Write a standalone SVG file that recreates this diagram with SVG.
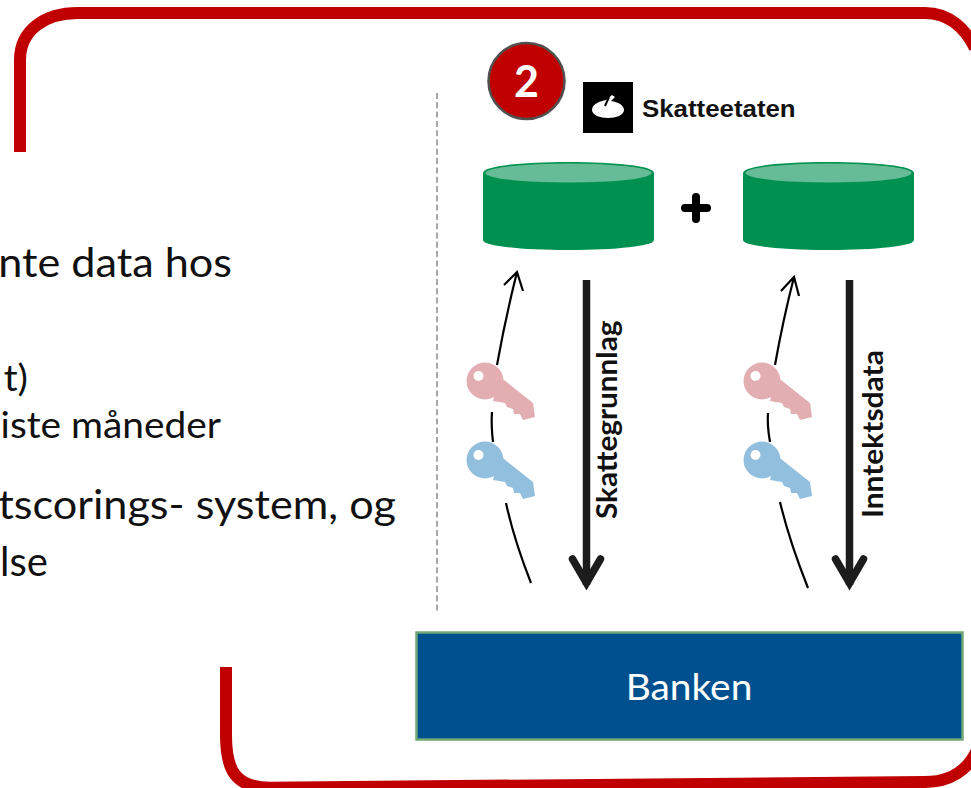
<svg xmlns="http://www.w3.org/2000/svg" xmlns:xlink="http://www.w3.org/1999/xlink" width="971" height="788" viewBox="0 0 971 788">
<style>
.body{font-family:Lato,"Open Sans",sans-serif;fill:#111;text-anchor:end}
.frame{fill:none;stroke:#c00000;stroke-linecap:butt}
.thick{fill:none;stroke:#1c1c1c;stroke-width:7.5}
.thin{fill:none;stroke:#000;stroke-width:2.2}
.side{font-family:Lato,"Open Sans",sans-serif;font-weight:700;font-size:28px;fill:#111}
.cylb{fill:#009150}
.cylt{fill:#66bc96}
</style>
<defs>
<g id="key"><circle r="18.500"/><path d="M14-5L48 22L50 36L38 39L35 33L29 33L28 28L22 26L20 22L8 20Z"/><circle cx="-6.500" cy="-5" r="5" fill="#fff"/></g>
</defs>
<rect width="971" height="788" fill="#fff"/>
<g id="frame">
<path class="frame" stroke-width="12" d="M20 152V60C20 30 45 13 78 13H925C950 13 966 30 975 48"/>
<path class="frame" stroke-width="12" d="M226 667V735C226 770 235 787.700 270 787.700L925 782C950 782 968 770 977 750"/>
</g>
<g id="text-left">
<text class="body" transform="translate(232 277) scale(1.08 1)" font-size="40">nte data hos</text>
<text class="body" transform="translate(28 391) scale(1.08 1)" font-size="36">t)</text>
<text class="body" transform="translate(221 438) scale(1.08 1)" font-size="36">iste måneder</text>
<text class="body" transform="translate(396 519) scale(1.08 1)" font-size="40">tscorings- system, og</text>
<text class="body" x="48" y="576" font-size="40">lse</text>
</g>
<line id="divider" x1="437" y1="93" x2="437" y2="612" stroke="#8a8a8a" stroke-width="1.500" stroke-dasharray="6 3.300"/>
<g id="badge">
<circle cx="526.500" cy="81" r="38" fill="#c00000" stroke="#505050" stroke-width="2.500"/>
<text x="526.500" y="97" text-anchor="middle" font-family="Lato,sans-serif" font-weight="700" font-size="43" fill="#fff">2</text>
</g>
<g id="logo">
<rect x="583" y="82" width="50" height="51" fill="#000"/>
<path d="M592 110C592 104 600 101 606 100L612 95L615 97L611 101C618 102 624 105 624 110C624 115 616 118 608 118C600 118 592 115 592 110Z" fill="#fff"/>
<path d="M609 97L605 106" stroke="#000" stroke-width="2" fill="none"/>
<text transform="translate(642 117) scale(1.1 1)" font-family="Liberation Sans,sans-serif" font-weight="700" font-size="23.500" fill="#111">Skatteetaten</text>
</g>
<g id="db-left">
<path class="cylb" d="M483 173C483 166 521 162 568.500 162S654 166 654 173V240C654 246 616 250 568.500 250S483 246 483 240Z"/>
<ellipse class="cylt" cx="568.500" cy="173" rx="83" ry="9.500"/>
</g>
<g id="db-right">
<path class="cylb" d="M743 173C743 166 781 162 828.500 162S914 166 914 173V240C914 246 876 250 828.500 250S743 246 743 240Z"/>
<ellipse class="cylt" cx="828.500" cy="173" rx="83" ry="9.500"/>
</g>
<path id="plus" d="M696 197V219M685 208H707" stroke="#000" stroke-width="8" stroke-linecap="round" fill="none"/>
<g id="connectors">
<path class="thin" d="M531 583Q514 540 506 503"/>
<path class="thin" d="M493 442Q491 425 492 412"/>
<path class="thin" d="M497 365Q505 320 517 272M504 285L517 272L523 291"/>
<path class="thick" d="M586.500 280V585"/>
<path class="thick" stroke-linecap="round" d="M572.500 559L586.500 583L600.500 559"/>
<path class="thin" d="M808 588Q789 540 780 502"/>
<path class="thin" d="M770 442Q767 425 768 413"/>
<path class="thin" d="M775 365Q783 320 794 277M781 291L794 277L799 296"/>
<path class="thick" d="M849.500 280V585"/>
<path class="thick" stroke-linecap="round" d="M835.500 559L849.500 583L863.500 559"/>
</g>
<g id="key-pink-1"><use xlink:href="#key" href="#key" x="485" y="381" fill="#e2aeb2"/></g>
<g id="key-blue-1"><use xlink:href="#key" href="#key" x="485" y="460" fill="#93bfde"/></g>
<g id="key-pink-2"><use xlink:href="#key" href="#key" x="762" y="381" fill="#e2aeb2"/></g>
<g id="key-blue-2"><use xlink:href="#key" href="#key" x="762" y="460" fill="#93bfde"/></g>
<text class="side" transform="translate(617 519) rotate(-90) scale(1.06 1)">Skattegrunnlag</text>
<text class="side" transform="translate(883 518) rotate(-90) scale(1.07 1)">Inntektsdata</text>
<g id="banken">
<rect x="416.500" y="632.500" width="546" height="107" fill="#00508f" stroke="#6fa876" stroke-width="2.500"/>
<text transform="translate(689 700) scale(1.08 1)" text-anchor="middle" font-family="Lato,sans-serif" font-size="36" fill="#fff">Banken</text>
</g>
</svg>
